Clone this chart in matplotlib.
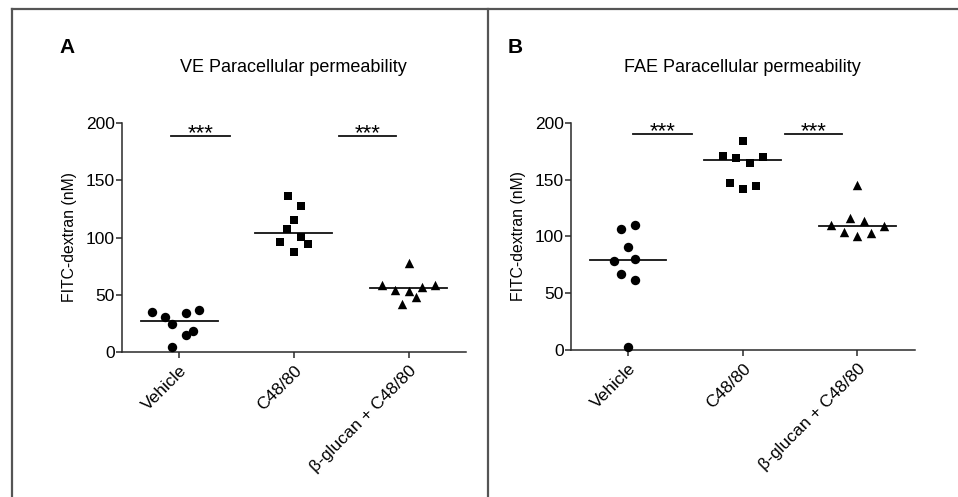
import matplotlib
matplotlib.use("Agg")
import matplotlib.pyplot as plt
from matplotlib.lines import Line2D
import numpy as np

plt.rcParams['font.family'] = ['Liberation Sans', 'DejaVu Sans']

categories = ["Vehicle", "C48/80", "β-glucan + C48/80"]
markers = ["o", "s", "^"]

# Panel A: VE
ve_vehicle = [34.4, 30.0, 24.0, 33.6, 36.5, 14.3, 18.4, 4.4]
ve_vehicle_dx = [-0.24, -0.12, -0.06, 0.06, 0.17, 0.06, 0.12, -0.06]
ve_c48 = [136.3, 127.9, 115.3, 107.1, 100.4, 95.7, 94.6, 87.0]
ve_c48_dx = [-0.05, 0.06, 0.0, -0.06, 0.06, -0.12, 0.12, 0.0]
ve_bg = [58.4, 53.7, 78.0, 53.4, 47.6, 41.8, 56.4, 58.7]
ve_bg_dx = [-0.23, -0.12, 0.0, 0.0, 0.06, -0.06, 0.12, 0.23]
ve_medians = [27.2, 103.9, 55.5]

# Panel B: FAE
fae_vehicle = [106.5, 109.7, 90.9, 78.3, 80.4, 67.2, 61.3, 2.9]
fae_vehicle_dx = [-0.06, 0.06, 0.0, -0.12, 0.06, -0.06, 0.06, 0.0]
fae_c48 = [184.2, 170.7, 169.2, 164.2, 169.5, 146.9, 141.9, 144.3]
fae_c48_dx = [0.0, -0.17, -0.06, 0.06, 0.18, -0.11, 0.0, 0.12]
fae_bg = [145.0, 110.0, 116.4, 113.2, 108.8, 103.8, 102.6, 100.3]
fae_bg_dx = [0.0, -0.23, -0.06, 0.06, 0.23, -0.12, 0.12, 0.0]
fae_medians = [79.5, 167.4, 109.4]

# significance bars: (x_start, x_end, y)
ve_sig = [(-0.07, 0.44, 188.5), (1.39, 1.89, 188.5)]
fae_sig = [(0.04, 0.56, 189.7), (1.37, 1.87, 189.7)]
sig_label = "***"

fig = plt.figure(figsize=(9.58, 4.97), dpi=100)

# frame lines
frame_col = "#555555"
fig.add_artist(Line2D([12/958, 12/958], [0, 1 - 8.5/497], transform=fig.transFigure, color=frame_col, lw=1.6))
fig.add_artist(Line2D([12/958, 1.0], [1 - 8.5/497, 1 - 8.5/497], transform=fig.transFigure, color=frame_col, lw=1.6))
fig.add_artist(Line2D([488/958, 488/958], [0, 1 - 8.5/497], transform=fig.transFigure, color=frame_col, lw=1.6))

panels = [
    dict(rect=[121.7/958, 1 - 351.7/497, (466 - 121.7)/958, (351.7 - 123.3)/497],
         data=[(ve_vehicle, ve_vehicle_dx), (ve_c48, ve_c48_dx), (ve_bg, ve_bg_dx)],
         med=ve_medians, sig=ve_sig, title="VE Paracellular permeability", letter="A",
         title_x=293/958, letter_x=59/958),
    dict(rect=[570.7/958, 1 - 350/497, (914.7 - 570.7)/958, (350 - 122.7)/497],
         data=[(fae_vehicle, fae_vehicle_dx), (fae_c48, fae_c48_dx), (fae_bg, fae_bg_dx)],
         med=fae_medians, sig=fae_sig, title="FAE Paracellular permeability", letter="B",
         title_x=742/958, letter_x=508/958),
]

axcol = "#2a2a2a"
for p in panels:
    ax = fig.add_axes(p["rect"])
    for i, (vals, dx) in enumerate(p["data"]):
        xs = np.array(dx) + i
        ms = 46 if markers[i] != "s" else 40
        ax.scatter(xs, vals, marker=markers[i], s=ms, color="black", zorder=3, clip_on=False, linewidths=0)
        ax.plot([i - 0.335, i + 0.335], [p["med"][i]] * 2, color="#111111", lw=1.3, zorder=2)
    for (x0, x1, y) in p["sig"]:
        ax.plot([x0, x1], [y, y], color="#111111", lw=1.3, clip_on=False)
        ax.text((x0 + x1) / 2, y - 2.2, sig_label, ha="center", va="baseline", fontsize=16, clip_on=False)
    ax.set_xlim(-0.5, 2.5)
    ax.set_ylim(0, 200)
    ax.set_yticks([0, 50, 100, 150, 200])
    ax.set_xticks(range(3))
    ax.set_xticklabels(categories, rotation=45, ha="right", rotation_mode="anchor", fontsize=12.5)
    ax.tick_params(axis="y", labelsize=12.5, length=4, width=1.1, color=axcol, pad=1)
    ax.tick_params(axis="x", length=4, width=1.1, color=axcol, pad=4)
    for s in ["top", "right"]:
        ax.spines[s].set_visible(False)
    for s in ["left", "bottom"]:
        ax.spines[s].set_color(axcol)
        ax.spines[s].set_linewidth(1.1)
    ax.set_ylabel("FITC-dextran (nM)", fontsize=11.3, labelpad=6)
    fig.text(p["title_x"], 1 - 68/497, p["title"], ha="center", va="center", fontsize=13)
    fig.text(p["letter_x"], 1 - 47.5/497, p["letter"], ha="left", va="center", fontsize=15, fontweight="bold")

fig.savefig("out.png", dpi=100)
